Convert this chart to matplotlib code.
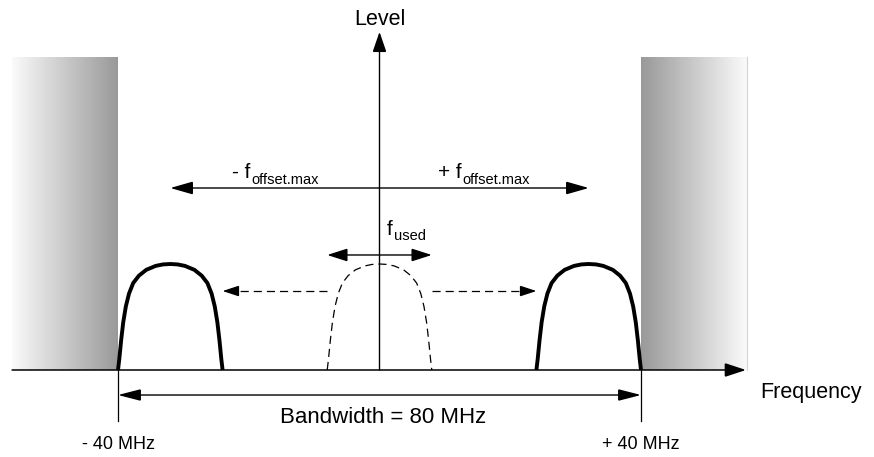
import numpy as np
import matplotlib
matplotlib.use("Agg")
import matplotlib.pyplot as plt
from matplotlib.patches import FancyArrowPatch

plt.rcParams['font.family'] = ['Liberation Sans', 'DejaVu Sans']

# ---- data (frequency in MHz, level in relative units) ----
band_edges = [-40, 40]
band_labels = ['- 40 MHz', '+ 40 MHz']
solid_pulse_centers = [-32, 32]
used_pulse_center = 0
pulse_width = 16
pulse_peak = 1.0
offset_max = 32
used_half = 8
block_outer = 56.2
block_top = 2.95
# pulse half-profile: fraction across width, fraction of peak
pulse_u = [0, 0.012, 0.03, 0.05, 0.075, 0.105, 0.145, 0.20, 0.27, 0.36, 0.43, 0.5]
pulse_h = [0, 0.10, 0.28, 0.45, 0.60, 0.72, 0.82, 0.89, 0.945, 0.982, 0.996, 1.0]

fig = plt.figure(figsize=(8.74, 4.57), dpi=100)
ax = fig.add_axes([0, 0, 1, 1])
ax.axis('off')

# gradient blocks
grad = np.linspace(0.98, 0.60, 256)[None, :]
ax.imshow(grad, cmap='gray', vmin=0, vmax=1, aspect='auto', interpolation='bilinear',
          extent=[-block_outer, band_edges[0], 0, block_top], zorder=1)
ax.imshow(grad[:, ::-1], cmap='gray', vmin=0, vmax=1, aspect='auto', interpolation='bilinear',
          extent=[band_edges[1], block_outer, 0, block_top], zorder=1)
ax.plot([block_outer, block_outer], [0, block_top], color='#d4d4d4', lw=0.8, zorder=1)

ax.set_xlim(-58.05, 75.64)
ax.set_ylim(-0.8208, 3.4906)


def arrow(p0, p1, style, hl=12, hw=4, lw=1.1, ls='-'):
    a = FancyArrowPatch(p0, p1, arrowstyle=f'{style},head_length={hl},head_width={hw}',
                        mutation_scale=1, shrinkA=0, shrinkB=0, lw=lw, color='black',
                        linestyle=ls, joinstyle='miter', zorder=4)
    ax.add_patch(a)


def sub_label(x, y_main, y_sub, main, sub, fs=15, fs_sub=10.5):
    ax.text(x, y_main, main, ha='right', va='baseline', fontsize=fs)
    ax.text(x + 0.15, y_sub, sub, ha='left', va='baseline', fontsize=fs_sub)


# pulse shape
u_full = np.array(pulse_u + [1 - u for u in pulse_u[::-1][1:]])
h_full = np.array(pulse_h + pulse_h[::-1][1:])
for c in solid_pulse_centers:
    ax.plot(c + (u_full - 0.5) * pulse_width, h_full * pulse_peak, color='black',
            lw=2.8, solid_capstyle='butt', solid_joinstyle='round', zorder=3)
ax.plot(used_pulse_center + (u_full - 0.5) * pulse_width, h_full * pulse_peak,
        color='black', lw=0.9, linestyle=(0, (6.5, 4)), zorder=3)

# axes
arrow((-block_outer, 0), (56.05, 0), '-|>', hl=13, hw=4.3, lw=1.1)
arrow((0, 0), (0, 3.19), '-|>', hl=12.5, hw=4.3, lw=1.0)

# bandwidth
for e, lab in zip(band_edges, band_labels):
    ax.plot([e, e], [0, -0.481], color='black', lw=0.9, zorder=3)
    ax.text(e, -0.75, lab, ha='center', va='baseline', fontsize=13)
arrow((band_edges[0], -0.236), (band_edges[1], -0.236), '<|-|>', hl=14, hw=3.6, lw=1.0)
ax.text(0.5, -0.5, 'Bandwidth = 80 MHz', ha='center', va='baseline', fontsize=16)

# offset arrows
arrow((-offset_max, 1.717), (offset_max, 1.717), '<|-|>', hl=14, hw=4, lw=1.0)
sub_label(-19.8, 1.811, 1.755, '- f', 'offset.max')
sub_label(12.5, 1.811, 1.755, '+ f', 'offset.max')

# f_used
arrow((-used_half, 1.085), (used_half, 1.085), '<|-|>', hl=12.5, hw=4, lw=1.0)
sub_label(2.0, 1.274, 1.226, 'f', 'used')

# dashed shift arrows
y_d = 0.745
for sgn in (-1, 1):
    tip = sgn * (solid_pulse_centers[1] - pulse_width / 2)
    start = sgn * used_half
    ax.plot([start, tip - sgn * 2.2], [y_d, y_d], color='black', lw=0.9,
            linestyle=(0, (6.5, 4)), zorder=3)
    arrow((tip - sgn * 2.2, y_d), (tip, y_d), '-|>', hl=10, hw=3.3, lw=0.9)

# labels
ax.text(0, 3.255, 'Level', ha='center', va='baseline', fontsize=15.5)
ax.text(58.2, -0.264, 'Frequency', ha='left', va='baseline', fontsize=15.5)

fig.savefig('out.png', dpi=100)
